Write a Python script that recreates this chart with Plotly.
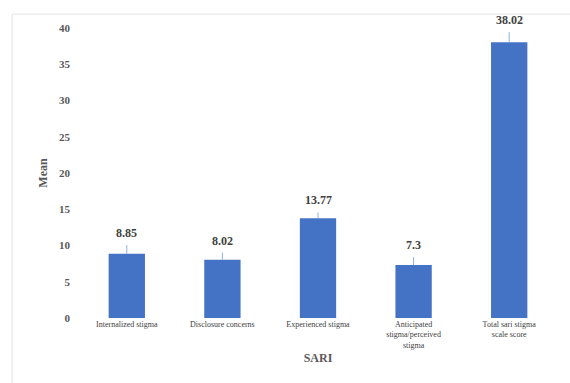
import plotly.graph_objects as go

categories = ["Internalized stigma", "Disclosure concerns", "Experienced stigma",
              "Anticipated<br>stigma/perceived<br>stigma", "Total sari stigma<br>scale score"]
means = [8.85, 8.02, 13.77, 7.3, 38.02]
errors = [1.2, 1.0, 0.8, 1.1, 1.4]
labels = ["8.85", "8.02", "13.77", "7.3", "38.02"]
y_ticks = [0, 5, 10, 15, 20, 25, 30, 35, 40]

serif = "Liberation Serif"

fig = go.Figure()
fig.add_trace(go.Bar(
    x=categories, y=means,
    marker=dict(color="#4472C4", line=dict(width=0)),
    width=0.38,
    error_y=dict(type="data", array=errors, arrayminus=[0] * len(errors),
                 symmetric=False, visible=True, color="#8FB0E0",
                 thickness=1, width=0),
    showlegend=False,
))

for c, m, e, t in zip(categories, means, errors, labels):
    fig.add_annotation(x=c, y=m + e, text="<b>" + t + "</b>", showarrow=False,
                       yanchor="bottom", yshift=3,
                       font=dict(family=serif, size=12, color="#404040"))

fig.add_shape(type="rect", xref="paper", yref="paper",
              x0=-0.14, x1=1.06, y0=-0.3, y1=1.048,
              line=dict(color="#E4E4E4", width=1), layer="below")

fig.update_layout(
    width=570, height=383,
    margin=dict(l=79, r=13, t=28, b=65),
    plot_bgcolor="white", paper_bgcolor="white",
    bargap=0.62,
    xaxis=dict(
        title=dict(text="<b>SARI</b>", font=dict(family=serif, size=12, color="#595959"),
                   standoff=4),
        tickfont=dict(family=serif, size=8, color="#404040"),
        showgrid=False, zeroline=False, showline=False, ticks="",
        tickangle=0,
    ),
    yaxis=dict(
        title=dict(text="<b>Mean</b>", font=dict(family=serif, size=12, color="#595959"),
                   standoff=8),
        range=[0, 40], tickvals=y_ticks,
        tickfont=dict(family=serif, size=11, color="#595959", weight="bold"),
        showgrid=False, zeroline=False, showline=False, ticks="",
        ticklabelstandoff=8,
    ),
)

fig.write_html("out.html")
